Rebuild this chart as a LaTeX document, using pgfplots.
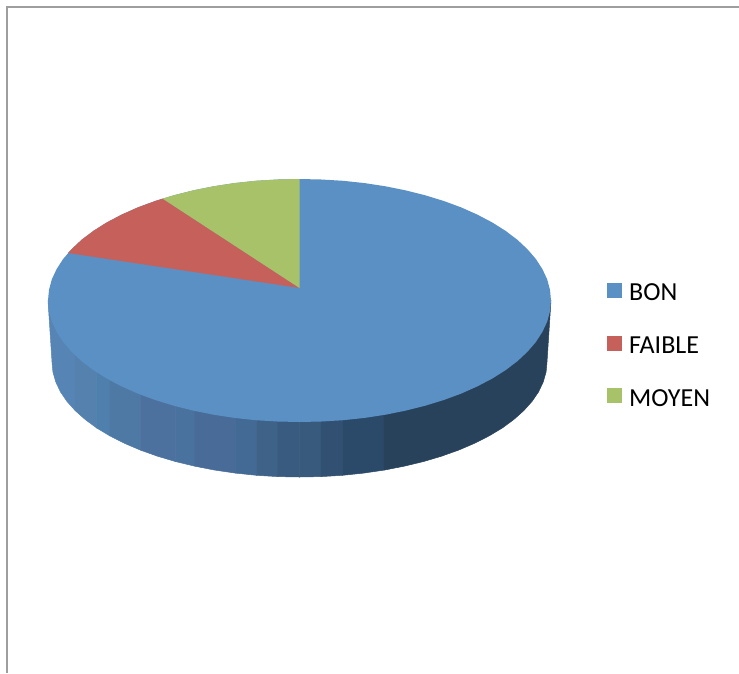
\documentclass[border=0pt]{standalone}
\usepackage{fontspec}
\setmainfont{Carlito}
\usepackage{pgfplots}
\pgfplotsset{compat=1.18}
\definecolor{cbon}{HTML}{5B90C5}
\definecolor{cfaible}{HTML}{C6605B}
\definecolor{cmoyen}{HTML}{A7C269}
\definecolor{sa}{HTML}{5584B5}
\definecolor{sb}{HTML}{5581AE}
\definecolor{sc}{HTML}{4F7FAD}
\definecolor{sd}{HTML}{4F79A5}
\definecolor{se}{HTML}{4D719E}
\definecolor{sf}{HTML}{4A729E}
\definecolor{sg}{HTML}{486B98}
\definecolor{sh}{HTML}{426A94}
\definecolor{si}{HTML}{3F6288}
\definecolor{sj}{HTML}{3A5B80}
\definecolor{sk}{HTML}{385A7C}
\definecolor{sl}{HTML}{325072}
\definecolor{sm}{HTML}{2B4968}
\definecolor{sn}{HTML}{28425C}
\pgfplotsset{band/.style={fill=#1,draw=#1,line width=0.5pt,forget plot}}
\begin{document}
\begin{tikzpicture}
\begin{axis}[
    scale only axis,width=739pt,height=673pt,
    xmin=0,xmax=739,ymin=0,ymax=673,y dir=reverse,
    hide axis,no markers,
    legend cell align=left,
    legend style={at={(axis cs:607,283)},anchor=north west,draw=none,fill=none,
        font=\fontsize{26}{30}\selectfont,row sep=33.5pt,inner xsep=0pt,inner ysep=0pt,
        nodes={inner xsep=7pt,inner ysep=0pt}},
    legend image code/.code={\fill[#1] (0pt,-5pt) rectangle (15pt,10pt);},
]
% page extent
\addplot[draw=none,forget plot] coordinates {(0,0) (739,673)};
% frame
\addplot[color=black!38,line width=2pt,forget plot] coordinates {(7,673) (7,7) (739,7)};

% side of the disc, left to right
\addplot[band=sa] coordinates {(48,300.5) (52,362) (52.9,372) (55.8,382) (60.4,391.8) (66.9,401.3) (75.2,410.6) (75.2,300)} --cycle;
\addplot[band=sb] coordinates {(75.2,300) (75.2,410.6) (85.2,419.5) (96.7,428) (96.7,300)} --cycle;
\addplot[band=sc] coordinates {(96.7,300) (96.7,428) (109.9,435.9) (109.9,300)} --cycle;
\addplot[band=sd] coordinates {(109.9,300) (109.9,435.9) (124.5,443.3) (140.4,450.1) (140.4,300)} --cycle;
\addplot[band=se] coordinates {(140.4,300) (140.4,450.1) (157.5,456.2) (175.7,461.6) (175.7,300)} --cycle;
\addplot[band=sf] coordinates {(175.7,300) (175.7,461.6) (194.9,466.2) (194.9,300)} --cycle;
\addplot[band=sg] coordinates {(194.9,300) (194.9,466.2) (214.9,470.1) (235.4,473.1) (235.4,300)} --cycle;
\addplot[band=sh] coordinates {(235.4,300) (235.4,473.1) (256.5,475.3) (256.5,300)} --cycle;
\addplot[band=si] coordinates {(256.5,300) (256.5,475.3) (277.9,476.6) (277.9,300)} --cycle;
\addplot[band=sj] coordinates {(277.9,300) (277.9,476.6) (299.5,477) (299.5,300)} --cycle;
\addplot[band=sk] coordinates {(299.5,300) (299.5,477) (321.1,476.6) (321.1,300)} --cycle;
\addplot[band=sl] coordinates {(321.1,300) (321.1,476.6) (342.5,475.3) (342.5,300)} --cycle;
\addplot[band=sm] coordinates {(342.5,300) (342.5,475.3) (363.6,473.1) (384.1,470.1) (384.1,300)} --cycle;
\addplot[band=sn] coordinates {(384.1,300) (384.1,470.1) (404.1,466.2) (423.3,461.6) (441.5,456.2) (458.6,450.1)
    (474.5,443.3) (489.1,435.9) (502.3,428) (513.8,419.5) (523.8,410.6) (532.1,401.3) (538.6,391.8)
    (543.2,382) (546.1,372) (547,362) (551,300.5)} --cycle;

% top face
\addplot[fill=cbon,draw=none] coordinates {
    (551,300.5) (550,311.1) (547.2,321.6) (542.4,331.9) (535.8,342.1) (527.4,351.8) (517.3,361.3) (505.5,370.2)
    (492.2,378.6) (477.3,386.4) (461.2,393.6) (443.8,400) (425.3,405.7) (405.8,410.6) (385.5,414.7) (364.6,417.9)
    (343.2,420.2) (321.4,421.5) (299.5,422) (277.6,421.5) (255.8,420.2) (234.4,417.9) (213.5,414.7) (193.2,410.6)
    (173.7,405.7) (155.2,400) (137.8,393.6) (121.7,386.4) (106.8,378.6) (93.5,370.2) (81.7,361.3) (71.6,351.8)
    (63.2,342.1) (56.6,331.9) (51.8,321.6) (49,311.1) (48,300.5) (49,289.9) (51.8,279.4) (56.6,269.1)
    (63.2,258.9) (71.6,249.2) (81.7,239.7) (93.5,230.8) (106.8,222.4) (121.7,214.6) (137.8,207.4) (155.2,201)
    (173.7,195.3) (193.2,190.4) (213.5,186.3) (234.4,183.1) (255.8,180.8) (277.6,179.5) (299.5,179) (321.4,179.5)
    (343.2,180.8) (364.6,183.1) (385.5,186.3) (405.8,190.4) (425.3,195.3) (443.8,201) (461.2,207.4) (477.3,214.6)
    (492.2,222.4) (505.5,230.8) (517.3,239.7) (527.4,249.2) (535.8,258.9) (542.4,269.1) (547.2,279.4) (550,289.9)
} --cycle;
\addplot[fill=cfaible,draw=none] coordinates {
    (299.5,288) (68,253) (71.6,249.2) (81.7,239.7) (93.5,230.8) (106.8,222.4) (121.7,214.6) (137.8,207.4) (155.2,201) (162.5,198.6)
} --cycle;
\addplot[fill=cmoyen,draw=none] coordinates {
    (299.5,288) (162.5,198.6) (173.7,195.3) (193.2,190.4) (213.5,186.3) (234.4,183.1) (255.8,180.8) (277.6,179.5) (299.5,179)
} --cycle;
\legend{BON,FAIBLE,MOYEN}
\end{axis}
\end{tikzpicture}
\end{document}
